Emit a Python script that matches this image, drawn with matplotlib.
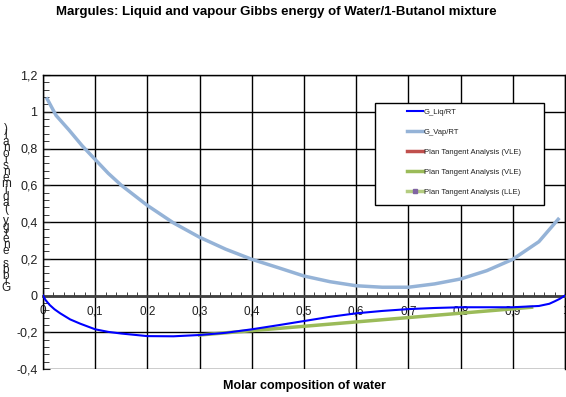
import matplotlib
matplotlib.use("Agg")
import matplotlib.pyplot as plt
from matplotlib.patches import Rectangle
import numpy as np

plt.rcParams['font.family'] = ['Liberation Sans', 'DejaVu Sans']

# data
x_liq = [0.0, 0.005, 0.013, 0.022, 0.033, 0.052, 0.071, 0.1, 0.125, 0.15, 0.2, 0.25,
         0.3, 0.35, 0.4, 0.45, 0.5, 0.55, 0.6, 0.65, 0.7, 0.75, 0.8, 0.85, 0.9, 0.95,
         0.97, 0.98, 0.99, 1.0]
g_liq = [0.0, -0.025, -0.052, -0.075, -0.097, -0.13, -0.153, -0.184, -0.198, -0.207,
         -0.221, -0.222, -0.215, -0.203, -0.184, -0.162, -0.139, -0.116, -0.097, -0.084,
         -0.074, -0.068, -0.064, -0.064, -0.064, -0.057, -0.045, -0.032, -0.018, 0.0]

x_vap = [0.008, 0.025, 0.05, 0.075, 0.1, 0.125, 0.15, 0.175, 0.2, 0.25, 0.3, 0.35,
         0.4, 0.45, 0.5, 0.55, 0.6, 0.65, 0.7, 0.75, 0.8, 0.85, 0.9, 0.95, 0.987]
g_vap = [1.07, 0.98, 0.90, 0.815, 0.74, 0.665, 0.60, 0.545, 0.49, 0.395, 0.317, 0.252,
         0.197, 0.152, 0.106, 0.075, 0.053, 0.045, 0.045, 0.063, 0.09, 0.135, 0.197,
         0.293, 0.415]

x_tan_vle2 = [0.3, 0.936]
g_tan_vle2 = [-0.215, -0.064]

x_ticks = [0, 0.1, 0.2, 0.3, 0.4, 0.5, 0.6, 0.7, 0.8, 0.9, 1.0]
x_labels = ['0', '0,1', '0,2', '0,3', '0,4', '0,5', '0,6', '0,7', '0,8', '0,9', '1']
y_ticks = [-0.4, -0.2, 0, 0.2, 0.4, 0.6, 0.8, 1.0, 1.2]
y_labels = ['-0,4', '-0,2', '0', '0,2', '0,4', '0,6', '0,8', '1', '1,2']

fig = plt.figure(figsize=(5.66, 3.97), dpi=100)
ax = fig.add_axes([43 / 566, 28 / 397, 522 / 566, 294 / 397])

ax.plot(x_liq, g_liq, color='#0000FF', lw=1.5, label='G_Liq/RT', zorder=4)
ax.plot(x_vap, g_vap, color='#95B3D7', lw=2.5, label='G_Vap/RT', zorder=3)
ax.plot([], [], color='#C0504D', lw=2.5, label='Plan Tangent Analysis (VLE)')
ax.plot(x_tan_vle2, g_tan_vle2, color='#9BBB59', lw=2.5,
        label='Plan Tangent Analysis (VLE)', zorder=3)
ax.plot([], [], color='#B4CC80', lw=2.5, marker='s', ms=3.5, mfc='#8064A2',
        mec='#8064A2', label='Plan Tangent Analysis (LLE)')

ax.set_xlim(0, 1)
ax.set_ylim(-0.4, 1.2)
ax.set_xticks(x_ticks)
ax.set_xticklabels(x_labels)
ax.set_yticks(y_ticks)
ax.set_yticklabels(y_labels)
ax.set_xticks(np.arange(0, 1.0001, 0.02), minor=True)
ax.set_yticks(np.arange(-0.4, 1.2001, 0.04), minor=True)

ax.grid(True, which='major', color='black', lw=1)
ax.spines['bottom'].set_position(('data', 0))
ax.spines['bottom'].set_color('#404040')
ax.spines['bottom'].set_linewidth(2)
for s in ['top', 'right', 'left']:
    ax.spines[s].set_color('black')
    ax.spines[s].set_linewidth(1)

ax.tick_params(axis='x', which='both', direction='in', length=4, labelsize=8.5,
               pad=7, colors='#202020')
ax.tick_params(axis='x', which='minor', length=3)
ax.tick_params(axis='y', which='both', direction='in', length=5, labelsize=9,
               pad=4, colors='#202020')
ax.tick_params(axis='y', which='minor', length=4)

# legend box drawn separately, entries placed inside it
ax.add_patch(Rectangle((0.636, 0.558), 0.324, 0.347, transform=ax.transAxes,
                       facecolor='white', edgecolor='black', lw=1, zorder=9))
leg = ax.legend(loc='upper left', bbox_to_anchor=(0.697, 0.885),
                fontsize=5.5, frameon=False, handlelength=2.1, labelspacing=1.65,
                borderpad=0, handletextpad=0.1, borderaxespad=0)
leg.set_zorder(10)
for t in leg.get_texts():
    t.set_color('#202020')

fig.text(276 / 566, 1 - 12 / 397, 'Margules: Liquid and vapour Gibbs energy of Water/1-Butanol mixture',
         ha='center', va='center', fontsize=9.5, fontweight='bold')
fig.text(304 / 566, 1 - 386 / 397, 'Molar composition of water',
         ha='center', va='center', fontsize=9, fontweight='bold')

# the y label in the original is stacked letter by letter, reading upwards
ylab = 'Gibbs energy (adimensional)'
for i, ch in enumerate(ylab):
    fig.text(6 / 566, 1 - (288 - i * 6.1) / 397, ch, ha='center', va='center',
             fontsize=8.5, color='#202020')

fig.savefig('out.png', dpi=100)
